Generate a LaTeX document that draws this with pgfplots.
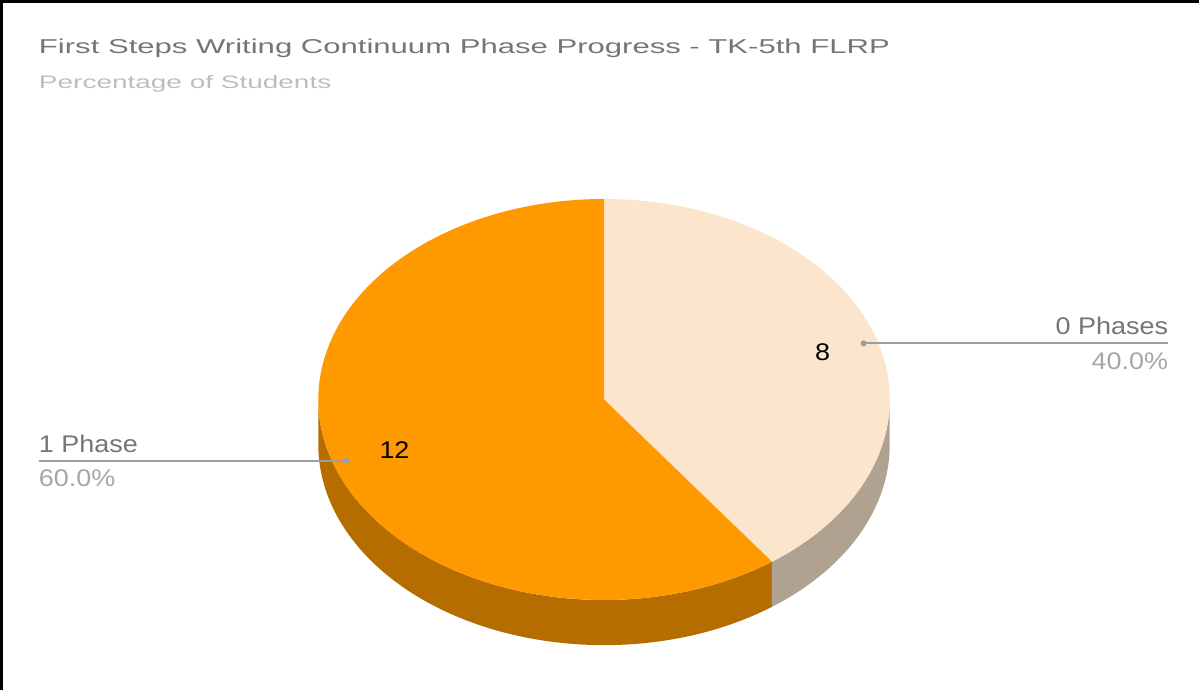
\documentclass[border=0pt]{standalone}
\usepackage{pgfplots}
\usepackage{pgfplotstable}
\usepackage{fontspec}
\pgfplotsset{compat=1.18}
\setmainfont{Liberation Sans}
\newfontfamily\titlefont{Liberation Sans}[FakeStretch=1.55]
\newfontfamily\labelfont{Liberation Sans}[FakeStretch=1.12]

\definecolor{slicea}{HTML}{FCE5CD}
\definecolor{sliceb}{HTML}{FF9900}
\definecolor{sidea}{HTML}{B0A290}
\definecolor{sideb}{HTML}{B56D00}
\definecolor{titlegray}{HTML}{757575}
\definecolor{subgray}{HTML}{BDBDBD}
\definecolor{pctgray}{HTML}{A6A6A6}
\definecolor{leader}{HTML}{9E9E9E}

% pie data
\pgfplotstableread{
label value
{0 Phases} 8
{1 Phase} 12
}\piedata

\pgfplotstablegetelem{0}{value}\of\piedata \let\va\pgfplotsretval
\pgfplotstablegetelem{1}{value}\of\piedata \let\vb\pgfplotsretval
\pgfmathsetmacro\angA{90-360*\va/(\va+\vb)} % end of first slice (clockwise from top)

% geometry, in pixel units of the 1200x692 picture
\def\cx{607}
\def\cy{290}
\def\rx{285}
\def\ry{200}
\def\dep{45}

\begin{document}
\begin{tikzpicture}
\begin{axis}[
    width=600pt, height=346pt,
    scale only axis,
    xmin=0, xmax=1200, ymin=0, ymax=692,
    hide axis,
    clip=false,
]
% side walls
\fill[sideb] (axis cs:{\cx-\rx},\cy)
    arc[start angle=180, end angle={360+\angA}, x radius=\rx, y radius=\ry]
    -- (axis cs:{\cx+\rx*cos(\angA)},{\cy+\ry*sin(\angA)-\dep})
    arc[start angle={360+\angA}, end angle=180, x radius=\rx, y radius=\ry]
    -- cycle;
\fill[sidea] (axis cs:{\cx+\rx*cos(\angA)},{\cy+\ry*sin(\angA)})
    arc[start angle=\angA, end angle=0, x radius=\rx, y radius=\ry]
    -- (axis cs:{\cx+\rx},{\cy-\dep})
    arc[start angle=0, end angle=\angA, x radius=\rx, y radius=\ry]
    -- cycle;
% top faces
\fill[slicea] (axis cs:\cx,\cy) -- (axis cs:\cx,{\cy+\ry})
    arc[start angle=90, end angle=\angA, x radius=\rx, y radius=\ry] -- cycle;
\fill[sliceb] (axis cs:\cx,\cy) -- (axis cs:{\cx+\rx*cos(\angA)},{\cy+\ry*sin(\angA)})
    arc[start angle=\angA, end angle=-270, x radius=\rx, y radius=\ry] -- cycle;

% values on slices
\node[font=\fontsize{12}{14}\labelfont, text=black] at (axis cs:825,337) {8};
\node[font=\fontsize{12}{14}\labelfont, text=black] at (axis cs:398,240) {12};

% leader lines
\draw[leader, line width=1pt] (axis cs:866,346) -- (axis cs:1170,346);
\fill[leader] (axis cs:866,346) circle[radius=3];
\draw[leader, line width=1pt] (axis cs:43,229) -- (axis cs:350,229);
\fill[leader] (axis cs:350,229) circle[radius=3];

\node[anchor=base east, font=\fontsize{12}{14}\labelfont, text=titlegray, inner sep=0pt] at (axis cs:1170,355) {0 Phases};
\node[anchor=base east, font=\fontsize{12}{14}\labelfont, text=pctgray, inner sep=0pt] at (axis cs:1170,320) {40.0\%};
\node[anchor=base west, font=\fontsize{12}{14}\labelfont, text=titlegray, inner sep=0pt] at (axis cs:43,237) {1 Phase};
\node[anchor=base west, font=\fontsize{12}{14}\labelfont, text=pctgray, inner sep=0pt] at (axis cs:43,203) {60.0\%};

% titles
\node[anchor=base west, font=\fontsize{10}{12}\titlefont, text=titlegray, inner sep=0pt] at (axis cs:43,635) {First Steps Writing Continuum Phase Progress - TK-5th FLRP};
\node[anchor=base west, font=\fontsize{9}{11}\titlefont, text=subgray, inner sep=0pt] at (axis cs:43,600) {Percentage of Students};

% frame
\draw[black, line width=1.5pt] (axis cs:6,0) -- (axis cs:6,687) -- (axis cs:1200,687);
\end{axis}
\end{tikzpicture}
\end{document}
